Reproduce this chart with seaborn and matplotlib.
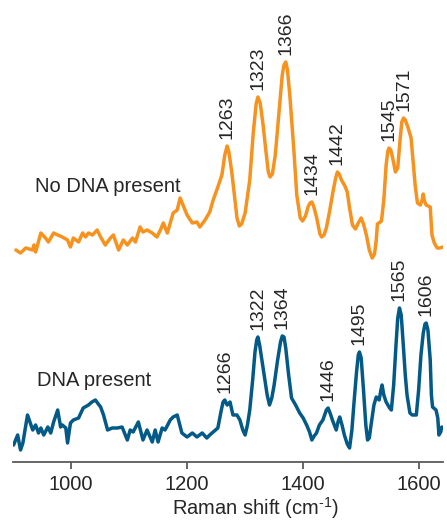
import numpy as np
import pandas as pd
import matplotlib
matplotlib.use("Agg")
import matplotlib.pyplot as plt
import seaborn as sns

# ---- data (Raman shift in cm-1, intensity in arbitrary units, offset-stacked) ----
no_dna_shift = [905, 913, 922, 934, 936, 939, 948, 956, 961, 970, 977, 985, 994, 999,
                1004, 1013, 1020, 1025, 1030, 1037, 1045, 1051, 1059, 1068, 1073, 1082,
                1090, 1097, 1106, 1111, 1119, 1124, 1131, 1140, 1148, 1154, 1159, 1166,
                1171, 1176, 1183, 1188, 1193, 1200, 1209, 1217, 1222, 1231, 1239, 1245,
                1253, 1260, 1265, 1269, 1272, 1277, 1282, 1286, 1290, 1294, 1300, 1308,
                1314, 1319, 1322, 1326, 1331, 1336, 1340, 1343, 1347, 1352, 1358, 1364,
                1367, 1370, 1373, 1377, 1384, 1389, 1395, 1399, 1404, 1409, 1412, 1415,
                1418, 1423, 1429, 1432, 1436, 1440, 1446, 1451, 1456, 1459, 1462, 1466,
                1472, 1476, 1480, 1485, 1490, 1495, 1500, 1504, 1509, 1514, 1519, 1523,
                1526, 1528, 1535, 1539, 1543, 1546, 1548, 1551, 1555, 1559, 1563, 1567,
                1570, 1573, 1576, 1581, 1586, 1589, 1593, 1597, 1602, 1605, 1607, 1609,
                1612, 1619, 1622, 1626, 1631, 1635, 1641]
no_dna_intensity = [220, 217, 222, 220, 225, 218, 237, 232, 228, 237, 235, 233, 230, 223,
                    232, 228, 237, 233, 237, 235, 240, 233, 225, 232, 235, 220,
                    230, 225, 232, 228, 243, 238, 240, 237, 233, 240, 247, 237,
                    247, 257, 260, 272, 265, 255, 247, 248, 243, 250, 258, 270,
                    283, 295, 315, 324, 318, 298, 272, 252, 244, 246, 257, 290,
                    337, 366, 373, 367, 345, 318, 298, 293, 296, 315, 355, 395,
                    405, 408, 400, 375, 320, 275, 252, 249, 254, 264, 267, 268,
                    264, 253, 236, 233, 235, 242, 260, 277, 292, 298, 296, 290,
                    284, 278, 262, 245, 241, 247, 252, 246, 235, 220, 212, 216,
                    230, 246, 249, 270, 305, 319, 322, 320, 310, 298, 302, 330,
                    348, 352, 350, 342, 332, 312, 285, 267, 265, 270, 276, 269,
                    265, 263, 235, 227, 222, 222, 223]

dna_shift = [901, 908, 913, 917, 925, 934, 939, 944, 948, 953, 960, 965, 970, 977, 982,
             985, 991, 994, 999, 1004, 1013, 1021, 1030, 1036, 1042, 1047, 1051, 1056,
             1063, 1071, 1080, 1088, 1097, 1102, 1107, 1116, 1124, 1131, 1140, 1145,
             1150, 1157, 1162, 1171, 1176, 1183, 1191, 1200, 1209, 1217, 1226, 1234,
             1239, 1253, 1259, 1262, 1265, 1269, 1274, 1279, 1286, 1291, 1296, 1300,
             1304, 1308, 1313, 1317, 1320, 1322, 1325, 1332, 1338, 1342, 1346, 1350,
             1356, 1361, 1364, 1367, 1370, 1375, 1380, 1387, 1394, 1400, 1406, 1411,
             1415, 1419, 1423, 1428, 1434, 1440, 1443, 1447, 1451, 1457, 1460, 1463,
             1467, 1471, 1476, 1480, 1484, 1488, 1492, 1495, 1497, 1500, 1504, 1508,
             1511, 1514, 1517, 1522, 1526, 1531, 1534, 1536, 1539, 1543, 1549, 1552,
             1556, 1560, 1563, 1566, 1569, 1572, 1576, 1579, 1584, 1588, 1595, 1599,
             1603, 1607, 1610, 1612, 1615, 1619, 1621, 1623, 1629, 1632, 1634, 1637,
             1639]
dna_intensity = [25, 35, 20, 27, 55, 40, 45, 37, 42, 35, 43, 37, 48, 60, 43,
                 45, 42, 27, 47, 50, 52, 62, 65, 68, 70, 66, 63, 55,
                 40, 42, 42, 43, 30, 40, 38, 48, 30, 40, 28, 40,
                 28, 42, 40, 50, 53, 55, 37, 33, 37, 33, 37, 32,
                 35, 42, 60, 68, 70, 65, 68, 55, 55, 50, 40, 35,
                 45, 60, 90, 118, 130, 133, 125, 98, 75, 65, 72, 85,
                 110, 128, 134, 133, 122, 95, 72, 65, 57, 52, 45, 38,
                 30, 34, 37, 45, 50, 60, 62, 56, 49, 40, 48, 53,
                 45, 35, 26, 22, 40, 70, 98, 115, 118, 112, 80, 45,
                 30, 32, 45, 65, 73, 70, 80, 85, 75, 68, 62, 60,
                 85, 125, 152, 162, 155, 130, 95, 75, 57, 55, 55, 80,
                 115, 137, 146, 147, 140, 110, 75, 63, 60, 52, 35, 38,
                 43]

series_names = ["No DNA present", "DNA present"]

no_dna_peak_labels = ["1263", "1323", "1366", "1434", "1442", "1545", "1571"]
no_dna_peak_at = [1269, 1322, 1370, 1415, 1459, 1548, 1573]
dna_peak_labels = ["1266", "1322", "1364", "1446", "1495", "1565", "1606"]
dna_peak_at = [1265, 1322, 1364, 1443, 1497, 1566, 1612]

x_ticks = [1000, 1200, 1400, 1600]

# ---- styling ----
sns.set_theme(style="white")
plt.rcParams["font.family"] = ["Liberation Sans", "DejaVu Sans"]
plt.rcParams["mathtext.fontset"] = "custom"
plt.rcParams["mathtext.rm"] = "Liberation Sans"
plt.rcParams["mathtext.it"] = "Liberation Sans:italic"
plt.rcParams["mathtext.bf"] = "Liberation Sans:bold"
plt.rcParams["mathtext.default"] = "regular"

orange = "#F7921E"
blue = "#035A86"
text_col = "#262626"
axis_col = "#5a5a5a"

df = pd.concat([
    pd.DataFrame({"shift": no_dna_shift, "intensity": no_dna_intensity,
                  "sample": series_names[0]}),
    pd.DataFrame({"shift": dna_shift, "intensity": dna_intensity,
                  "sample": series_names[1]}),
])

fig = plt.figure(figsize=(4.47, 5.20), dpi=100)
ax = fig.add_axes([13 / 447, 58 / 520, 430 / 447, 462 / 520])

sns.lineplot(data=df, x="shift", y="intensity", hue="sample", estimator=None,
             sort=False, palette={series_names[0]: orange, series_names[1]: blue},
             linewidth=2.5, legend=False, ax=ax)
for line in ax.lines:
    line.set_solid_joinstyle("round")
    line.set_solid_capstyle("round")

ax.set_xlim(900, 1641)
ax.set_ylim(8, 470)

for sp in ["top", "right", "left"]:
    ax.spines[sp].set_visible(False)
ax.spines["bottom"].set_color(axis_col)
ax.spines["bottom"].set_linewidth(1.3)
ax.set_yticks([])
ax.set_xticks(x_ticks)
ax.set_xticklabels([str(t) for t in x_ticks])
ax.tick_params(axis="x", direction="out", length=5, width=1.3, color=axis_col,
               labelsize=14.5, labelcolor=text_col, pad=4, bottom=True)
ax.set_xlabel("")
ax.set_ylabel("")
fig.text(256 / 447, 5.5 / 520, r"Raman shift (cm$^{\text{-}1}$)", ha="center",
         va="baseline", fontsize=14.5, color=text_col)

# peak labels
for labels, pos, xs, ys in [
        (no_dna_peak_labels, no_dna_peak_at, no_dna_shift, no_dna_intensity),
        (dna_peak_labels, dna_peak_at, dna_shift, dna_intensity)]:
    for lab, p in zip(labels, pos):
        yv = np.interp(p, xs, ys)
        ax.annotate(lab, xy=(p, yv), xytext=(0, 5), textcoords="offset points",
                    rotation=90, ha="center", va="bottom", fontsize=14,
                    color=text_col)

# series labels
ax.text(1064, 284, series_names[0], ha="center", va="center", fontsize=14.5,
        color=text_col)
ax.text(1039, 90, series_names[1], ha="center", va="center", fontsize=14.5,
        color=text_col)

fig.savefig("out.png", dpi=100)
